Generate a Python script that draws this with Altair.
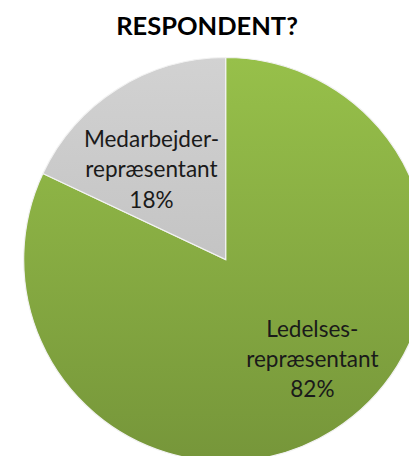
import altair as alt
import pandas as pd

categories = ["Ledelses-\nrepræsentant", "Medarbejder-\nrepræsentant"]
shares = [82, 18]
order = [1, 2]
title_text = "RESPONDENT?"

df = pd.DataFrame({"cat": categories, "share": shares, "ord": order})

base = alt.Chart(df).transform_joinaggregate(
    total="sum(share)"
).transform_window(
    cum="sum(share)", sort=[alt.SortField("ord")]
).transform_calculate(
    t1="(datum.cum - datum.share) / datum.total * 2 * PI",
    t2="datum.cum / datum.total * 2 * PI",
    tm="(datum.cum - datum.share / 2) / datum.total * 2 * PI",
    label="datum.cat + '\\n' + datum.share + '%'",
)

CX, CY, R = 222, 252, 206

def slice_layer(ordv, c1, c2):
    return base.transform_filter(alt.datum.ord == ordv).mark_arc(
        fill=alt.Gradient(
            gradient="linear",
            stops=[alt.GradientStop(color=c1, offset=0), alt.GradientStop(color=c2, offset=1)],
            x1=0, x2=0, y1=0, y2=1,
        ),
        stroke="#f2f2f2",
        strokeWidth=1.2,
    ).encode(
        theta=alt.Theta("t1:Q", scale=None),
        theta2="t2:Q",
        x=alt.value(CX),
        y=alt.value(CY),
        radius=alt.value(R),
    )

green = slice_layer(1, "#97C04A", "#76963A")
gray = slice_layer(2, "#D2D2D2", "#C4C4C4")

def label_layer(ordv, rad, dx, dy):
    return base.transform_filter(alt.datum.ord == ordv).mark_text(
        font="Lato", fontSize=23, lineBreak="\n", lineHeight=31,
        align="center", baseline="middle", color="#1a1a1a", dx=dx, dy=dy,
    ).encode(
        theta=alt.Theta("tm:Q", scale=None),
        x=alt.value(CX),
        y=alt.value(CY),
        radius=alt.value(rad),
        text="label:N",
    )

lab_green = label_layer(1, 137, 15, -44)
lab_gray = label_layer(2, 117, -13, -23)

title = alt.Chart(pd.DataFrame({"t": [title_text]})).mark_text(
    font="Lato", fontSize=26, fontWeight="bold", align="center",
    baseline="alphabetic", color="#000000",
).encode(text="t:N", x=alt.value(203), y=alt.value(23))

chart = alt.layer(green, gray, lab_green, lab_gray, title).properties(
    width=409, height=448, padding=0,
    autosize=alt.AutoSizeParams(type="none"),
).configure_view(stroke=None)

chart.save("out.html", embed_options={"renderer": "svg", "actions": False})
